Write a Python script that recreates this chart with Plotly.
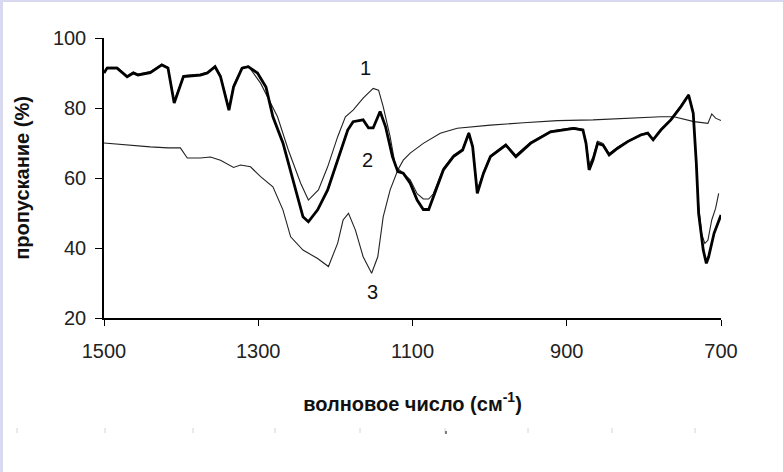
import plotly.graph_objects as go

# Curve 2 (thick)
wn2 = [1500, 1496, 1483, 1470, 1462, 1456, 1440, 1425, 1417, 1409, 1397, 1375, 1366, 1356, 1349,
       1338, 1332, 1321, 1313, 1301, 1290, 1281, 1268, 1255, 1242, 1235, 1223, 1210, 1197, 1184,
       1177, 1164, 1157, 1151, 1142, 1135, 1126, 1119, 1112, 1103, 1094, 1086, 1079, 1073, 1060,
       1047, 1035, 1027, 1022, 1016, 1008, 999, 979, 966, 947, 921, 908, 891, 879, 875, 871, 866,
       860, 853, 845, 834, 821, 804, 795, 788, 778, 765, 752, 742, 736, 732, 729, 723, 719, 716,
       709, 704, 700]
t2 = [90.0, 91.4, 91.4, 88.9, 90.0, 89.4, 90.1, 92.3, 91.4, 81.4, 89.0, 89.4, 90.0, 91.8, 89.0,
      79.4, 86.0, 91.4, 91.8, 90.0, 86.0, 77.5, 70.0, 59.4, 48.9, 47.5, 50.9, 56.6, 65.1, 73.7,
      76.1, 76.6, 74.3, 74.3, 79.0, 74.7, 66.1, 61.8, 61.4, 58.5, 53.7, 51.0, 51.0, 54.7, 62.3,
      66.1, 68.0, 72.8, 68.9, 55.6, 61.3, 66.1, 69.4, 66.1, 69.9, 73.2, 73.7, 74.2, 73.7, 69.9,
      62.3, 65.1, 69.9, 69.4, 66.6, 68.5, 70.4, 72.3, 72.8, 70.9, 73.7, 76.6, 80.4, 83.7, 78.5,
      64.2, 49.9, 39.4, 35.6, 37.5, 44.2, 47.1, 49.4]

# Curve 1 (thin, upper)
wn1 = [1500, 1496, 1483, 1470, 1462, 1456, 1440, 1425, 1417, 1409, 1397, 1375, 1366, 1356, 1349,
       1338, 1332, 1321, 1313, 1297, 1275, 1261, 1245, 1235, 1222, 1210, 1197, 1187, 1177, 1164,
       1151, 1144, 1138, 1129, 1122, 1112, 1103, 1094, 1086, 1079, 1073, 1060, 1047, 1035, 1027,
       1022, 1016, 1008, 999, 979, 966, 947, 921, 908, 891, 879, 875, 871, 866, 860, 853, 845,
       834, 821, 804, 795, 788, 778, 765, 752, 742, 736, 732, 729, 725, 721, 717, 712, 707, 703, 700]
t1 = [90.3, 91.6, 91.6, 89.2, 90.3, 89.7, 90.4, 92.5, 91.7, 82.0, 89.3, 89.7, 90.3, 92.0, 89.3,
      80.0, 86.5, 91.6, 92.0, 87.1, 77.5, 68.0, 58.5, 53.7, 56.6, 63.2, 71.8, 77.5, 79.4, 82.8,
      85.6, 85.1, 80.4, 71.8, 63.2, 61.4, 59.5, 55.5, 54.0, 54.0, 55.5, 62.8, 66.5, 68.3, 73.0,
      69.3, 56.5, 61.8, 66.4, 69.7, 66.5, 70.2, 73.4, 73.9, 74.4, 73.9, 70.3, 63.7, 66.0, 70.5,
      69.9, 67.0, 68.8, 70.6, 72.5, 73.0, 71.1, 73.9, 76.8, 80.6, 83.9, 78.8, 65.0, 52.0, 44.0,
      41.3, 42.2, 48.0, 51.3, 55.6]

# Curve 3 (thin, lower)
wn3 = [1500, 1470, 1440, 1417, 1401, 1392, 1375, 1362, 1349, 1332, 1323, 1310, 1297, 1281, 1268,
       1258, 1242, 1223, 1209, 1197, 1190, 1183, 1174, 1164, 1153, 1145, 1138, 1129, 1119, 1112,
       1103, 1086, 1064, 1042, 1021, 999, 956, 912, 866, 821, 778, 761, 735, 717, 712, 707, 700]
t3 = [70.0, 69.4, 68.9, 68.6, 68.6, 65.7, 65.7, 66.0, 65.1, 63.0, 63.7, 63.2, 60.4, 57.5, 50.9,
      43.2, 39.4, 37.0, 34.7, 41.4, 48.0, 49.9, 45.1, 37.5, 32.8, 37.5, 48.9, 56.6, 62.3, 65.1,
      67.1, 69.9, 72.8, 74.2, 74.7, 75.1, 75.8, 76.4, 76.6, 77.1, 77.5, 77.5, 76.1, 75.6, 78.3,
      77.1, 76.4]

x_ticks = [1500, 1300, 1100, 900, 700]
y_ticks = [20, 40, 60, 80, 100]
curve_labels = ["1", "2", "3"]
label_pos = [(1161, 91.4), (1158, 65.1), (1152, 27.4)]

fig = go.Figure()
fig.add_trace(go.Scatter(x=wn3, y=t3, mode="lines", line=dict(color="#222222", width=1.1),
                         showlegend=False, hoverinfo="skip"))
fig.add_trace(go.Scatter(x=wn1, y=t1, mode="lines", line=dict(color="#222222", width=1.1),
                         showlegend=False, hoverinfo="skip"))
fig.add_trace(go.Scatter(x=wn2, y=t2, mode="lines", line=dict(color="#000000", width=2.8),
                         showlegend=False, hoverinfo="skip"))

for txt, (xx, yy) in zip(curve_labels, label_pos):
    fig.add_annotation(x=xx, y=yy, text=txt, showarrow=False,
                       font=dict(family="Arial, Liberation Sans", size=20, color="#111111"))

# lavender frame (left & top)
shapes = [
    dict(type="rect", xref="paper", yref="paper", x0=-0.2, x1=(3 - 104) / 617, y0=-0.6, y1=1.2,
         fillcolor="#d8d8ee", line=dict(width=0), layer="below"),
    dict(type="rect", xref="paper", yref="paper", x0=-0.2, x1=1.2, y0=(318 - 2) / 280, y1=1.2,
         fillcolor="#d8d8ee", line=dict(width=0), layer="below"),
]
# faint artifact marks under the axis title
for px in [17, 105, 193, 275, 360, 445, 528, 612, 695]:
    shapes.append(dict(type="line", xref="paper", yref="paper",
                       x0=(px - 104) / 617, x1=(px - 104) / 617,
                       y0=(318 - 428) / 280, y1=(318 - 433) / 280,
                       line=dict(color="#d4d4d4", width=1)))
shapes.append(dict(type="line", xref="paper", yref="paper",
                   x0=(446 - 104) / 617, x1=(446 - 104) / 617,
                   y0=(318 - 431) / 280, y1=(318 - 434) / 280,
                   line=dict(color="#555555", width=1.5)))

fig.update_layout(
    width=783, height=472,
    margin=dict(l=104, r=62, t=38, b=154),
    paper_bgcolor="white", plot_bgcolor="white",
    shapes=shapes,
    font=dict(family="Arial, Liberation Sans", color="#222222"),
    xaxis=dict(range=[1500, 700], tickvals=x_ticks, ticktext=[str(v) for v in x_ticks],
               showgrid=False, zeroline=False, showline=True, linecolor="black", linewidth=1.5,
               ticks="outside", ticklen=6, tickcolor="black", tickwidth=1.2,
               ticklabelstandoff=8,
               tickfont=dict(size=20, color="#222222"),
               title=dict(text="<b>волновое число (см<sup>-1</sup>)</b>", standoff=36,
                          font=dict(size=20, color="#111111"))),
    yaxis=dict(range=[20, 100], tickvals=y_ticks, showgrid=False, zeroline=False,
               showline=True, linecolor="black", linewidth=1.5,
               ticks="outside", ticklen=7, tickcolor="black", tickwidth=1.2,
               ticklabelstandoff=5,
               tickfont=dict(size=20, color="#222222"),
               title=dict(text="<b>пропускание (%)</b>", standoff=18,
                          font=dict(size=20, color="#111111"))),
)

fig.write_html("out.html")
